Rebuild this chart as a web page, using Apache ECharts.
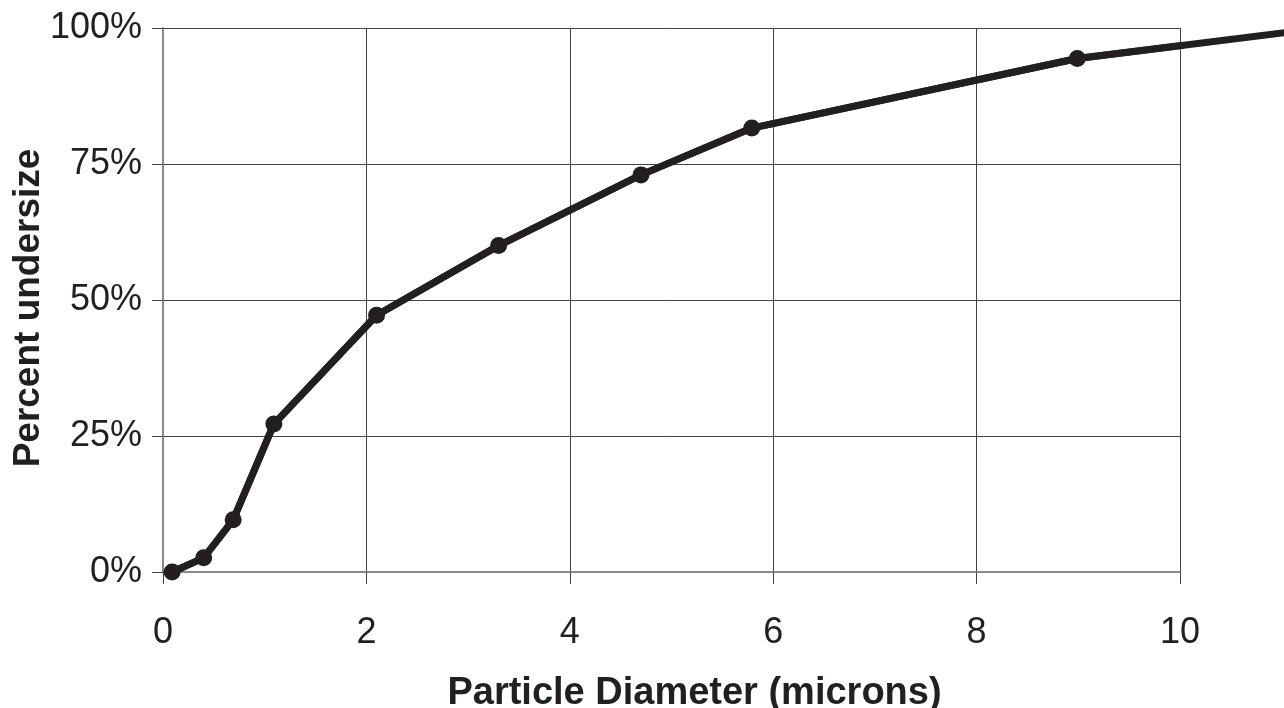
<!DOCTYPE html>
<html>
<head>
<meta charset="utf-8">
<script src="https://cdn.jsdelivr.net/npm/echarts@6/dist/echarts.min.js"></script>
<style>html,body{margin:0;padding:0;background:#fff;}#c{width:1284px;height:708px;}</style>
</head>
<body>
<div id="c"></div>
<script>
// Particle diameter (microns) and cumulative percent undersize
var diameters = [0.09, 0.40, 0.69, 1.09, 2.10, 3.30, 4.70, 5.79, 8.99, 11.4];
var percentUndersize = [0.0, 2.6, 9.6, 27.2, 47.2, 60.0, 73.0, 81.6, 94.4, 100.0];
var xTicks = [0, 2, 4, 6, 8, 10];
var yTicks = [0, 25, 50, 75, 100];

var chart = echarts.init(document.getElementById('c'), null, {renderer: 'canvas'});
var FONT = '"Liberation Sans", Arial, sans-serif';
var INK = '#231f20';
var pts = diameters.map(function (d, i) { return [d, percentUndersize[i]]; });

chart.setOption({
  animation: false,
  backgroundColor: '#ffffff',
  grid: {left: 163, right: 104, top: 28, bottom: 136, containLabel: false, outerBoundsMode: 'none'},
  xAxis: {
    type: 'value',
    min: xTicks[0], max: xTicks[xTicks.length - 1], interval: 2,
    name: 'Particle Diameter (microns)',
    nameLocation: 'middle',
    nameGap: 103,
    nameMoveOverlap: false,
    nameTextStyle: {fontFamily: FONT, fontSize: 38, fontWeight: 'bold', color: INK, padding: [0, 0, 0, 46]},
    axisLine: {show: true, onZero: false, lineStyle: {color: '#8a8a8a', width: 2}},
    axisTick: {show: true, inside: false, length: 12, lineStyle: {color: '#444', width: 1}},
    axisLabel: {fontFamily: FONT, fontSize: 36, color: INK, margin: 43},
    splitLine: {show: true, lineStyle: {color: '#444', width: 1}}
  },
  yAxis: {
    type: 'value',
    min: yTicks[0], max: yTicks[yTicks.length - 1], interval: 25,
    name: 'Percent undersize',
    nameLocation: 'middle',
    nameRotate: 90,
    nameGap: 116,
    nameMoveOverlap: false,
    nameTextStyle: {fontFamily: FONT, fontSize: 37, fontWeight: 'bold', color: INK, padding: [0, 16, 0, 0]},
    axisLine: {show: true, lineStyle: {color: '#8a8a8a', width: 2}},
    axisTick: {show: true, inside: false, length: 11, lineStyle: {color: '#444', width: 1}},
    axisLabel: {fontFamily: FONT, fontSize: 36, color: INK, margin: 21, formatter: '{value}%'},
    splitLine: {show: true, lineStyle: {color: '#444', width: 1}}
  },
  series: [{
    type: 'line',
    data: pts,
    symbol: 'circle',
    symbolSize: 17,
    itemStyle: {color: INK},
    lineStyle: {color: INK, width: 7},
    z: 5
  }, {
    // segments drawn without clipping so the curve runs past the plot edge
    type: 'custom',
    clip: false,
    data: pts,
    z: 4,
    renderItem: function (params, api) {
      var i = params.dataIndex;
      if (i >= pts.length - 1) return null;
      var a = api.coord([api.value(0), api.value(1)]);
      var b = api.coord(pts[i + 1]);
      return {
        type: 'line',
        shape: {x1: a[0], y1: a[1], x2: b[0], y2: b[1]},
        style: {stroke: INK, lineWidth: 7, lineCap: 'round'}
      };
    }
  }]
});
</script>
</body>
</html>
